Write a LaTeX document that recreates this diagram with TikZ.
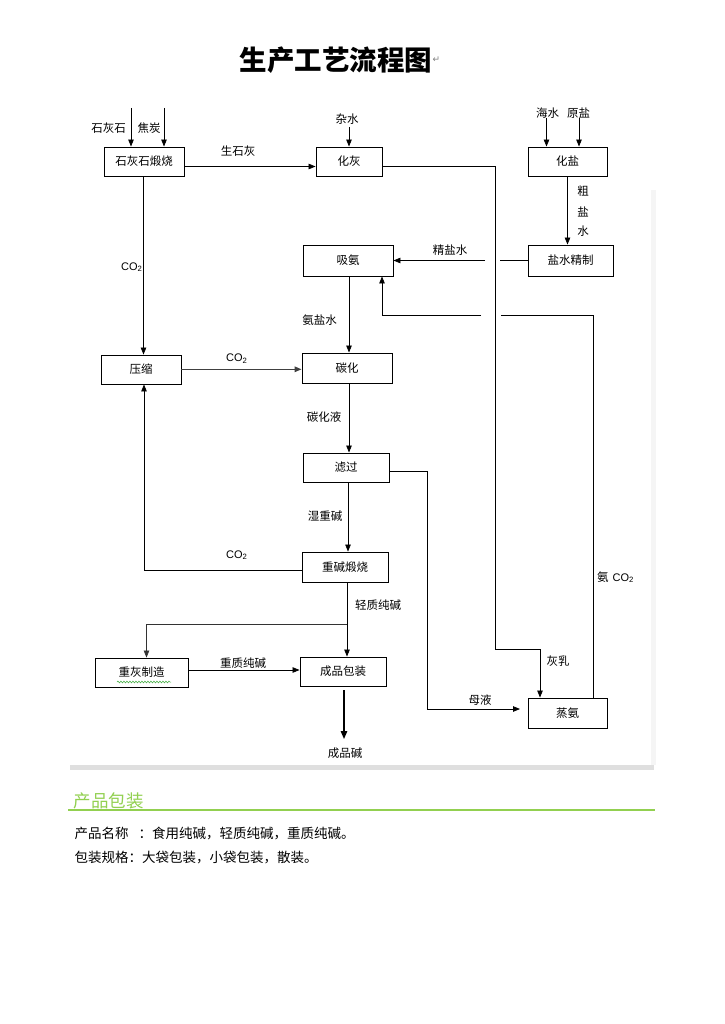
\documentclass[tikz,border=0pt]{standalone}
\usepackage{fontspec}
\newfontfamily\cjk{Noto Sans CJK SC}
\newfontfamily\latf{Liberation Sans}
\newfontfamily\djv{DejaVu Sans}
\usetikzlibrary{arrows.meta,decorations.pathmorphing}
\definecolor{lgreen}{RGB}{146,208,80}
\definecolor{wavygreen}{RGB}{60,170,60}
\newcommand\lblfont{\cjk\fontsize{11.5pt}{13pt}\selectfont}
\newcommand\cotwo{{\latf\fontsize{11pt}{13pt}\selectfont CO\textsubscript{2}}}
\begin{document}
\begin{tikzpicture}[x=1pt,y=-1pt,
  box/.style={draw, line width=0.9pt, inner sep=0pt, font=\lblfont},
  lab/.style={inner sep=0pt, font=\lblfont},
  arr/.style={-{Triangle[length=7pt,width=5.5pt]}, line width=0.8pt},
  ln/.style={line width=0.8pt}]
\fill[white] (0,0) rectangle (724,1024);
\useasboundingbox (0,0) rectangle (724,1024);

% title
\node[inner sep=0pt, font={\cjk\bfseries\fontsize{27.5pt}{30pt}\selectfont}] (title) at (336,60) {生产工艺流程图};
\node[inner sep=0pt, anchor=west, text=gray, font={\djv\fontsize{9pt}{10pt}\selectfont}] (ret) at (title.east) {↵};

% frame hints
\fill[gray!25] (69.5,765) rectangle (654,769.5);
\fill[gray!8] (651,190) rectangle (656,765);

% boxes
\node[box, minimum width=80pt, minimum height=29pt] (b1) at (144,161.5) {石灰石煅烧};
\node[box, minimum width=66pt, minimum height=29pt] (b2) at (349,161.5) {化灰};
\node[box, minimum width=79pt, minimum height=29pt] (b3) at (567.5,161.5) {化盐};
\node[box, minimum width=90pt, minimum height=31pt] (b4) at (348,260.5) {吸氨};
\node[box, minimum width=85pt, minimum height=31pt] (b5) at (570.5,260.5) {盐水精制};
\node[box, minimum width=80pt, minimum height=29pt] (b6) at (141,369.5) {压缩};
\node[box, minimum width=90pt, minimum height=30pt] (b7) at (347,368) {碳化};
\node[box, minimum width=86pt, minimum height=29pt] (b8) at (346,467.5) {滤过};
\node[box, minimum width=86pt, minimum height=30pt] (b9) at (345,567) {重碱煅烧};
\node[box, minimum width=93pt, minimum height=29pt] (b10) at (141.5,672.5) {重灰制造};
\node[box, minimum width=86pt, minimum height=29pt] (b11) at (343,671.5) {成品包装};
\node[box, minimum width=79pt, minimum height=30pt] (b12) at (567.5,713) {蒸氨};

% wavy underline of 重灰制造
\draw[wavygreen, line width=0.5pt, decorate, decoration={snake, amplitude=0.9pt, segment length=3pt}] (117,682) -- (171,682);

% inputs
\coordinate (in1) at (131,108);
\coordinate (in2) at (164,108);
\coordinate (in3) at (349,127);
\coordinate (in4) at (546.5,118);
\coordinate (in5) at (579,118);
\draw[arr] (in1) -- (in1 |- b1.north);
\draw[arr] (in2) -- (in2 |- b1.north);
\draw[arr] (in3) -- (in3 |- b2.north);
\draw[arr] (in4) -- (in4 |- b3.north);
\draw[arr] (in5) -- (in5 |- b3.north);
\node[lab] (l1) at (108.5,128) {石灰石};
\node[lab] (l2) at (149,128) {焦炭};
\node[lab] (l3) at (347,119) {杂水};
\node[lab] (l4) at (547.5,113) {海水};
\node[lab] (l5) at (578.5,113) {原盐};

% 石灰石煅烧 -> 化灰
\draw[arr] (b1.east |- 0,166.5) -- (b2.west |- 0,166.5);
\node[lab] (l6) at (238,151.5) {生石灰};

% 化灰 -> 蒸氨 (灰乳)
\coordinate (c1) at (495,166.5);
\coordinate (c2) at (495,649);
\coordinate (c3) at (540,649);
\draw[arr] (b2.east |- c1) -- (c1) -- (c2) -- (c3) -- (c3 |- b12.north);
\node[lab] (l7) at (558,661.5) {灰乳};

% 化盐 -> 盐水精制
\draw[arr] (b3.south -| 567.5,0) -- (b5.north -| 567.5,0);
\node[lab] (l8a) at (583,191.5) {粗};
\node[lab] (l8b) at (583,211.5) {盐};
\node[lab] (l8c) at (583,231.5) {水};

% 盐水精制 -> 吸氨
\coordinate (j1) at (500,260.5);
\coordinate (j2) at (485,260.5);
\draw[ln] (b5.west) -- (j1);
\draw[arr] (j2) -- (b4.east);
\node[lab] (l9) at (450,250.5) {精盐水};

% 蒸氨 -> 吸氨
\coordinate (k1) at (593.5,315);
\coordinate (k2) at (501,315);
\coordinate (k3) at (481,315);
\coordinate (k4) at (382,315);
\draw[ln] (b12.north -| k1) -- (k1) -- (k2);
\draw[arr] (k3) -- (k4) -- (k4 |- b4.south);
\node[inner sep=0pt, anchor=west] (l10) at (597,577) {\lblfont 氨\hspace{4pt}\cotwo};

% 吸氨 -> 碳化
\draw[arr] (b4.south -| 349,0) -- (b7.north -| 349,0);
\node[lab] (l11) at (319.5,320) {氨盐水};

% 石灰石煅烧 -> 压缩
\draw[arr] (b1.south -| 143.5,0) -- (b6.north -| 143.5,0);
\node[inner sep=0pt, anchor=west] (l12) at (121,267) {\cotwo};

% 压缩 -> 碳化
\draw[-{Triangle[length=7pt,width=5.5pt]}, line width=1.5pt, black!75] (b6.east |- 0,369.3) -- (b7.west |- 0,369.3);
\node[inner sep=0pt, anchor=west] (l13) at (226,358.5) {\cotwo};

% 碳化 -> 滤过
\draw[arr] (b7.south -| 349,0) -- (b8.north -| 349,0);
\node[lab] (l14) at (324,417.5) {碳化液};

% 滤过 -> 重碱煅烧
\draw[-{Triangle[length=7pt,width=5.5pt]}, line width=0.6pt] (b8.south -| 348,0) -- (b9.north -| 348,0);
\node[lab] (l15) at (325,516.5) {湿重碱};

% 滤过 -> 蒸氨 (母液)
\coordinate (m1) at (427.5,471.5);
\coordinate (m2) at (427.5,709);
\coordinate (m3) at (520,709);
\draw[arr] (b8.east |- m1) -- (m1) -- (m2) -- (m3);
\node[lab] (l16) at (480,700) {母液};

% 重碱煅烧 -> 压缩
\coordinate (p1) at (144,570.5);
\draw[arr] (b9.west |- p1) -- (p1) -- (p1 |- b6.south);
\node[inner sep=0pt, anchor=west] (l17) at (226,555) {\cotwo};

% 重碱煅烧 -> 成品包装 / 重灰制造
\draw[arr] (b9.south -| 347,0) -- (b11.north -| 347,0);
\node[lab] (l18) at (378,605) {轻质纯碱};
\coordinate (q1) at (347,624.3);
\coordinate (q2) at (146.5,624.3);
\draw[-{Triangle[length=7pt,width=5.5pt]}, line width=0.6pt, black!80] (q1) -- (q2) -- (q2 |- b10.north);

% 重灰制造 -> 成品包装
\draw[arr] (b10.east |- 0,670) -- (b11.west |- 0,670);
\node[lab] (l19) at (243,663.5) {重质纯碱};

% 成品包装 -> 成品碱
\coordinate (o1) at (344,690);
\coordinate (o2) at (344,739);
\draw[-{Triangle[length=8pt,width=6.5pt]}, line width=1.4pt] (o1) -- (o2);
\node[lab] (l20) at (345,753.5) {成品碱};

% lower text
\node[inner sep=0pt, anchor=west, text=lgreen, font={\cjk\fontsize{17.5pt}{19pt}\selectfont}] (h1) at (73.5,801) {产品包装};
\draw[lgreen, line width=1.3pt] (68,810) -- (655,810);
\node[inner sep=0pt, anchor=west, font={\cjk\fontsize{13.5pt}{15pt}\selectfont}] (t1) at (74.5,833.5) {产品名称\hspace{10pt}：食用纯碱，轻质纯碱，重质纯碱。};
\node[inner sep=0pt, anchor=west, font={\cjk\fontsize{13.5pt}{15pt}\selectfont}] (t2) at (74.5,857.5) {包装规格：大袋包装，小袋包装，散装。};
\end{tikzpicture}
\end{document}
